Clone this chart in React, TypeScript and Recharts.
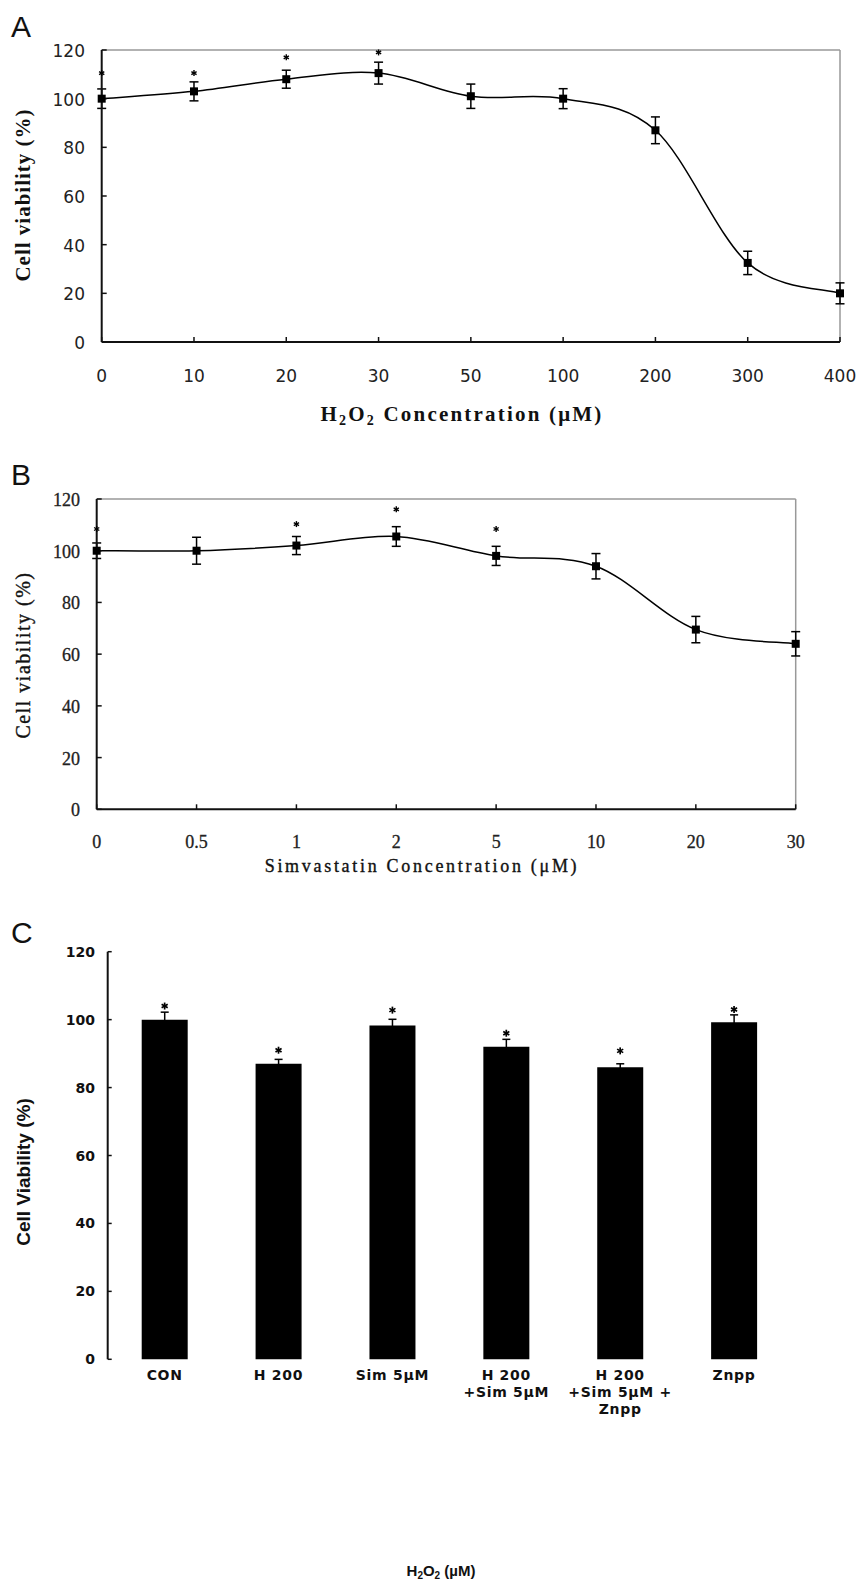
import React from 'react';
import { LineChart, Line, XAxis, YAxis, ErrorBar, ReferenceLine, ComposedChart, Bar } from 'recharts';

// ---------- Panel A data ----------
const catsA = ['0', '10', '20', '30', '50', '100', '200', '300', '400'];
const valsA = [100, 103, 108, 110.5, 101, 100, 87, 32.5, 20];
const errA = [4, 3.9, 3.7, 4.5, 5, 4.1, 5.5, 4.8, 4.3];
const starsA: (number | null)[] = [110.5, 110.5, 117, 119, null, null, null, null, null];

// ---------- Panel B data ----------
const catsB = ['0', '0.5', '1', '2', '5', '10', '20', '30'];
const valsB = [100, 100, 102, 105.5, 98, 94, 69.5, 64];
const errB = [3, 5.2, 3.5, 3.8, 3.7, 4.9, 5.1, 4.7];
const starsB: (number | null)[] = [108.4, null, 110.3, 116, 108.4, null, null, null];

// ---------- Panel C data ----------
const catsC = ['CON', 'H 200', 'Sim 5µM', 'H 200\n+Sim 5µM', 'H 200\n+Sim 5µM +\nZnpp', 'Znpp'];
const valsC = [100, 87, 98.3, 92, 86, 99.2];
const errC = [2.2, 1.3, 1.8, 2.2, 1, 2.2];
const starsC = [104, 91, 102.8, 96, 90.8, 103];
const gridTicksC = [1, 2, 3, 4, 5, 6];

const yTicks = [0, 20, 40, 60, 80, 100, 120];

const dataA = catsA.map((c, i) => ({ cat: c, v: valsA[i], err: errA[i], star: starsA[i] }));
const dataB = catsB.map((c, i) => ({ cat: c, v: valsB[i], err: errB[i], star: starsB[i] }));
const dataC = catsC.map((c, i) => ({ cat: c, v: valsC[i], err: errC[i], star: starsC[i] }));

// Excel-like smoothed curve (Catmull-Rom style Bezier)
function excelCurve(context: any) {
  let pts: [number, number][] = [];
  return {
    areaStart() {},
    areaEnd() {},
    lineStart() {
      pts = [];
    },
    lineEnd() {
      const n = pts.length;
      if (n === 0) return;
      context.moveTo(pts[0][0], pts[0][1]);
      for (let i = 0; i < n - 1; i++) {
        const p0 = pts[Math.max(i - 1, 0)];
        const p1 = pts[i];
        const p2 = pts[i + 1];
        const p3 = pts[Math.min(i + 2, n - 1)];
        const c1x = p1[0] + (p2[0] - p0[0]) / 6;
        const c1y = p1[1] + (p2[1] - p0[1]) / 6;
        const c2x = p2[0] - (p3[0] - p1[0]) / 6;
        const c2y = p2[1] - (p3[1] - p1[1]) / 6;
        context.bezierCurveTo(c1x, c1y, c2x, c2y, p2[0], p2[1]);
      }
    },
    point(x: number, y: number) {
      pts.push([+x, +y]);
    },
  };
}

const SquareDot = (props: any) => {
  const { cx, cy } = props;
  if (cx == null || cy == null || isNaN(cy)) return null;
  return <rect x={cx - 4} y={cy - 4} width={8} height={8} fill="#000" />;
};

const makeStar = (r: number, sw: number) => (props: any) => {
  const { cx, cy, value, payload } = props;
  const v = value ?? payload?.star;
  if (cx == null || cy == null || v == null || isNaN(cy)) return null;
  const dx = r * 0.87;
  const dy = r * 0.5;
  return (
    <g stroke="#000" strokeWidth={sw}>
      <line x1={cx} y1={cy - r} x2={cx} y2={cy + r} />
      <line x1={cx - dx} y1={cy - dy} x2={cx + dx} y2={cy + dy} />
      <line x1={cx - dx} y1={cy + dy} x2={cx + dx} y2={cy - dy} />
    </g>
  );
};
const StarSmall = makeStar(3, 1.4);
const StarC = makeStar(3.5, 1.7);

// ---------- tick renderers ----------
const TickAX = (p: any) => (
  <text x={p.x} y={p.y} textAnchor="middle" fontFamily="DejaVu Sans" fontSize={17} fill="#222">
    {p.payload.value}
  </text>
);
const TickAY = (p: any) => (
  <text x={p.x} y={p.y} dy={7} textAnchor="end" fontFamily="DejaVu Sans" fontSize={17} fill="#222">
    {p.payload.value}
  </text>
);
const TickBX = (p: any) => (
  <text x={p.x} y={p.y} textAnchor="middle" fontFamily="Liberation Serif" fontSize={18} fill="#222" stroke="#222" strokeWidth={0.3}>
    {p.payload.value}
  </text>
);
const TickBY = (p: any) => (
  <text x={p.x} y={p.y} dy={7} textAnchor="end" fontFamily="Liberation Serif" fontSize={18} fill="#222" stroke="#222" strokeWidth={0.3}>
    {p.payload.value}
  </text>
);
const TickCY = (p: any) => (
  <text x={p.x} y={p.y} dy={5} textAnchor="end" fontFamily="DejaVu Sans" fontWeight="bold" fontSize={14} fill="#111">
    {p.payload.value}
  </text>
);
const TickCX = (p: any) => {
  const lines = String(p.payload.value).split('\n');
  return (
    <text x={p.x} y={p.y} textAnchor="middle" fontFamily="DejaVu Sans" fontWeight="bold" fontSize={14} letterSpacing={0.7} fill="#111">
      {lines.map((l, i) => (
        <tspan key={i} x={p.x} dy={i === 0 ? 0 : 17}>
          {l}
        </tspan>
      ))}
    </text>
  );
};
const NoTick = () => null;

const axisStroke = { stroke: '#111', strokeWidth: 2 };
const tickStroke = { stroke: '#111', strokeWidth: 1.5 };

export default function App() {
  return (
    <div style={{ position: 'absolute', left: 0, top: 0, width: 857, height: 1581, background: '#fff' }}>
      {/* Panel A */}
      <div style={{ position: 'absolute', left: 0, top: 0 }}>
        <LineChart width={857} height={440} data={dataA} margin={{ top: 50, right: 17, bottom: 0, left: 0 }}>
          <XAxis
            dataKey="cat"
            height={98}
            padding={{ left: 0, right: 0 }}
            axisLine={axisStroke}
            tickLine={tickStroke}
            tickSize={-5}
            tickMargin={44.7}
            tick={TickAX}
            interval={0}
          />
          <YAxis
            width={101.7}
            domain={[0, 120]}
            ticks={yTicks}
            axisLine={axisStroke}
            tickLine={tickStroke}
            tickSize={-5}
            tickMargin={21.7}
            tick={TickAY}
            interval={0}
          />
          <ReferenceLine y={120} stroke="#999" strokeWidth={1.5} />
          <ReferenceLine x="400" stroke="#999" strokeWidth={1.5} />
          <Line
            dataKey="v"
            type={excelCurve as any}
            stroke="#000"
            strokeWidth={1.5}
            dot={SquareDot}
            activeDot={false}
            isAnimationActive={false}
          >
            <ErrorBar dataKey="err" width={4.5} stroke="#000" strokeWidth={1.5} direction="y" />
          </Line>
          <Line dataKey="star" stroke="none" dot={StarSmall} activeDot={false} isAnimationActive={false} />
        </LineChart>
      </div>

      {/* Panel B */}
      <div style={{ position: 'absolute', left: 0, top: 450 }}>
        <LineChart width={857} height={450} data={dataB} margin={{ top: 49, right: 61.3, bottom: 0, left: 0 }}>
          <XAxis
            dataKey="cat"
            height={90.7}
            padding={{ left: 0, right: 0 }}
            axisLine={axisStroke}
            tickLine={tickStroke}
            tickSize={-5}
            tickMargin={43.7}
            tick={TickBX}
            interval={0}
          />
          <YAxis
            width={96.7}
            domain={[0, 120]}
            ticks={yTicks}
            axisLine={axisStroke}
            tickLine={tickStroke}
            tickSize={-5}
            tickMargin={21.7}
            tick={TickBY}
            interval={0}
          />
          <ReferenceLine y={120} stroke="#999" strokeWidth={1.5} />
          <ReferenceLine x="30" stroke="#999" strokeWidth={1.5} />
          <Line
            dataKey="v"
            type={excelCurve as any}
            stroke="#000"
            strokeWidth={1.5}
            dot={SquareDot}
            activeDot={false}
            isAnimationActive={false}
          >
            <ErrorBar dataKey="err" width={4.5} stroke="#000" strokeWidth={1.5} direction="y" />
          </Line>
          <Line dataKey="star" stroke="none" dot={StarSmall} activeDot={false} isAnimationActive={false} />
        </LineChart>
      </div>

      {/* Panel C */}
      <div style={{ position: 'absolute', left: 0, top: 900 }}>
        <ComposedChart width={857} height={681} data={dataC} margin={{ top: 51.7, right: 66, bottom: 0, left: 0 }}>
          <XAxis
            xAxisId="grid"
            type="number"
            domain={[0, 6]}
            allowDataOverflow
            ticks={gridTicksC}
            height={0}
            axisLine={axisStroke}
            tickLine={tickStroke}
            tickSize={-4}
            tick={NoTick}
            interval={0}
          />
          <XAxis
            dataKey="cat"
            height={221.7}
            axisLine={false}
            tickLine={false}
            tickSize={0}
            tickMargin={20.7}
            tick={TickCX}
            interval={0}
          />
          <YAxis
            width={107.7}
            domain={[0, 120]}
            ticks={yTicks}
            axisLine={axisStroke}
            tickLine={tickStroke}
            tickSize={-4}
            tickMargin={16.7}
            tick={TickCY}
            interval={0}
          />
          <Bar dataKey="v" fill="#000" barSize={46} isAnimationActive={false}>
            <ErrorBar dataKey="err" width={4} stroke="#000" strokeWidth={1.5} direction="y" />
          </Bar>
          <Line dataKey="star" stroke="none" dot={StarC} activeDot={false} isAnimationActive={false} />
        </ComposedChart>
      </div>

      {/* Text overlay: panel letters and axis titles */}
      <svg width={857} height={1581} style={{ position: 'absolute', left: 0, top: 0, pointerEvents: 'none' }}>
        <g fontFamily="Liberation Sans" fontSize={30} fill="#111">
          <text x={11} y={37}>A</text>
          <text x={11} y={485}>B</text>
          <text x={11} y={943}>C</text>
        </g>
        <text
          x={23}
          y={195}
          transform="rotate(-90 23 195)"
          textAnchor="middle"
          dominantBaseline="central"
          fontFamily="Liberation Serif"
          fontWeight="bold"
          fontSize={21}
          letterSpacing={1}
          fill="#111"
        >
          Cell viability (%)
        </text>
        <text x={462} y={421} textAnchor="middle" fontFamily="Liberation Serif" fontWeight="bold" fontSize={21} letterSpacing={2.2} fill="#111">
          H<tspan fontSize={14} dy={4}>2</tspan>
          <tspan dy={-4}>O</tspan>
          <tspan fontSize={14} dy={4}>2</tspan>
          <tspan dy={-4}> Concentration (μM)</tspan>
        </text>
        <text
          x={23}
          y={655}
          transform="rotate(-90 23 655)"
          textAnchor="middle"
          dominantBaseline="central"
          fontFamily="Liberation Serif"
          fontSize={20}
          letterSpacing={1.5}
          fill="#111"
          stroke="#111"
          strokeWidth={0.35}
        >
          Cell viability (%)
        </text>
        <text x={422} y={872} textAnchor="middle" fontFamily="Liberation Serif" fontSize={18} letterSpacing={2.7} fill="#111" stroke="#111" strokeWidth={0.35}>
          Simvastatin Concentration (μM)
        </text>
        <text
          x={23}
          y={1172}
          transform="rotate(-90 23 1172)"
          textAnchor="middle"
          dominantBaseline="central"
          fontFamily="Liberation Sans"
          fontWeight="bold"
          fontSize={19}
          fill="#111"
        >
          Cell Viability (%)
        </text>
        <text x={441} y={1576} textAnchor="middle" fontFamily="Liberation Sans" fontWeight="bold" fontSize={15} fill="#111">
          H<tspan fontSize={10} dy={3}>2</tspan>
          <tspan dy={-3}>O</tspan>
          <tspan fontSize={10} dy={3}>2</tspan>
          <tspan dy={-3}> (µM)</tspan>
        </text>
      </svg>
    </div>
  );
}
